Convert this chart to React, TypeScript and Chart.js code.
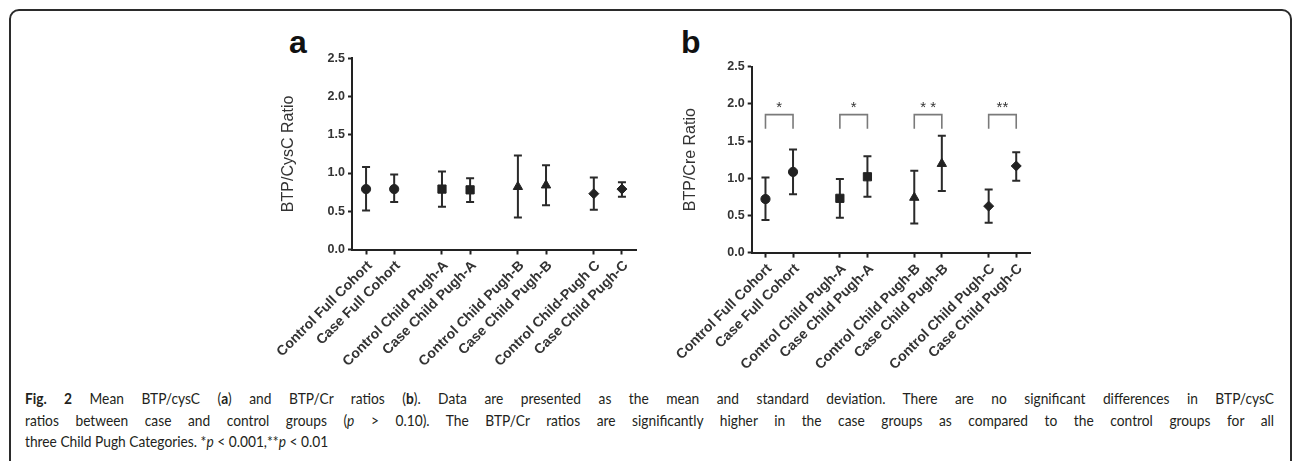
import React, { useEffect, useRef } from "react";
import { Chart, registerables } from "chart.js";

Chart.register(...registerables);

// ---------------- data ----------------
const labelsA = [
  "Control Full Cohort",
  "Case Full Cohort",
  "Control Child Pugh-A",
  "Case Child Pugh-A",
  "Control Child Pugh-B",
  "Case Child Pugh-B",
  "Control Child-Pugh C",
  "Case Child Pugh-C",
];
const labelsB = [
  "Control Full Cohort",
  "Case Full Cohort",
  "Control Child Pugh-A",
  "Case Child Pugh-A",
  "Control Child Pugh-B",
  "Case Child Pugh-B",
  "Control Child Pugh-C",
  "Case Child Pugh-C",
];
const markerStyles = ["circle", "circle", "rect", "rect", "triangle", "triangle", "rectRot", "rectRot"];
const markerRadius = [4.6, 4.6, 5.8, 5.8, 5.4, 5.4, 5.0, 5.0];

// panel a: BTP/CysC ratio (mean, mean+SD, mean-SD)
const meanA = [0.79, 0.79, 0.79, 0.78, 0.82, 0.84, 0.73, 0.79];
const upperA = [1.08, 0.98, 1.02, 0.93, 1.23, 1.1, 0.94, 0.88];
const lowerA = [0.51, 0.62, 0.56, 0.62, 0.42, 0.58, 0.52, 0.69];

// panel b: BTP/Cre ratio
const meanB = [0.72, 1.085, 0.73, 1.02, 0.74, 1.195, 0.625, 1.165];
const upperB = [1.01, 1.385, 0.99, 1.295, 1.1, 1.57, 0.85, 1.35];
const lowerB = [0.44, 0.785, 0.47, 0.75, 0.39, 0.83, 0.4, 0.965];

// significance brackets in panel b
const bracketPairs = [
  [0, 1],
  [2, 3],
  [4, 5],
  [6, 7],
];
const bracketStars = ["*", "*", "* *", "**"];
const bracketTop = 1.855;
const bracketLegEnd = 1.665;
const starLevel = 1.95;

const yTicks = [0, 0.5, 1.0, 1.5, 2.0, 2.5];
const yTitleA = "BTP/CysC Ratio";
const yTitleB = "BTP/Cre Ratio";

// x position of each group member: pairs separated by a gap
const GROUP_GAP = 0.7;
const xPos = (i: number) => i + Math.floor(i / 2) * GROUP_GAP;

const FONT = "'Liberation Sans', Arial, sans-serif";
const INK = "#222";

function errorBarPlugin(lower: number[], upper: number[]) {
  return {
    id: "errorBars",
    beforeDatasetsDraw(chart: any) {
      const { ctx, scales } = chart;
      const x = scales.x;
      const y = scales.y;
      ctx.save();
      ctx.strokeStyle = "#2a2a2a";
      ctx.lineWidth = 2;
      for (let i = 0; i < lower.length; i++) {
        const px = x.getPixelForValue(xPos(i));
        const pTop = y.getPixelForValue(upper[i]);
        const pBot = y.getPixelForValue(lower[i]);
        ctx.beginPath();
        ctx.moveTo(px, pTop);
        ctx.lineTo(px, pBot);
        ctx.moveTo(px - 4, pTop);
        ctx.lineTo(px + 4, pTop);
        ctx.moveTo(px - 4, pBot);
        ctx.lineTo(px + 4, pBot);
        ctx.stroke();
      }
      ctx.restore();
    },
  };
}

const bracketPlugin = {
  id: "brackets",
  afterDatasetsDraw(chart: any) {
    const { ctx, scales } = chart;
    const x = scales.x;
    const y = scales.y;
    ctx.save();
    ctx.strokeStyle = "#7a7a7a";
    ctx.lineWidth = 1.6;
    ctx.fillStyle = "#333";
    ctx.font = `15px ${FONT}`;
    ctx.textAlign = "center";
    ctx.textBaseline = "middle";
    bracketPairs.forEach((pair, k) => {
      const x1 = x.getPixelForValue(xPos(pair[0]));
      const x2 = x.getPixelForValue(xPos(pair[1]));
      const yt = y.getPixelForValue(bracketTop);
      const yl = y.getPixelForValue(bracketLegEnd);
      ctx.beginPath();
      ctx.moveTo(x1, yl);
      ctx.lineTo(x1, yt);
      ctx.lineTo(x2, yt);
      ctx.lineTo(x2, yl);
      ctx.stroke();
      ctx.fillText(bracketStars[k], (x1 + x2) / 2, y.getPixelForValue(starLevel));
    });
    ctx.restore();
  },
};

interface PanelProps {
  labels: string[];
  mean: number[];
  lower: number[];
  upper: number[];
  yTitle: string;
  left: number;
  top: number;
  width: number;
  height: number;
  padLeft: number;
  padRight: number;
  padTop: number;
  yWidth: number;
  xHeight: number;
  brackets?: boolean;
}

function Panel(p: PanelProps) {
  const ref = useRef<HTMLCanvasElement | null>(null);
  useEffect(() => {
    if (!ref.current) return;
    const plugins: any[] = [errorBarPlugin(p.lower, p.upper)];
    if (p.brackets) plugins.push(bracketPlugin);
    const chart = new Chart(ref.current, {
      type: "scatter",
      data: {
        datasets: [
          {
            data: p.mean.map((m, i) => ({ x: xPos(i), y: m })),
            pointStyle: markerStyles as any,
            pointRadius: markerRadius,
            pointBackgroundColor: INK,
            pointBorderColor: INK,
            pointBorderWidth: 1,
            showLine: false,
          },
        ],
      },
      options: {
        responsive: false,
        animation: false,
        events: [],
        layout: { padding: { left: p.padLeft, right: p.padRight, top: p.padTop, bottom: 0 } },
        plugins: { legend: { display: false }, tooltip: { enabled: false } },
        scales: {
          x: {
            type: "linear",
            min: -0.5,
            max: 9.6,
            afterBuildTicks: (scale: any) => {
              scale.ticks = p.labels.map((_, i) => ({ value: xPos(i) }));
            },
            afterFit: (scale: any) => {
              scale.height = p.xHeight;
              scale.paddingLeft = 0;
              scale.paddingRight = 0;
            },
            ticks: {
              autoSkip: false,
              minRotation: 45,
              maxRotation: 45,
              padding: 3,
              labelOffset: 4,
              color: "#333",
              font: { family: FONT, size: 14, weight: "bold" },
              callback: (_v: any, i: number) => p.labels[i],
            },
            grid: {
              drawOnChartArea: false,
              drawTicks: true,
              tickLength: 5,
              tickWidth: 2,
              tickColor: INK,
            },
            border: { display: true, width: 2, color: INK },
          },
          y: {
            type: "linear",
            min: 0,
            max: 2.5,
            afterBuildTicks: (scale: any) => {
              scale.ticks = yTicks.map((v) => ({ value: v }));
            },
            afterFit: (scale: any) => {
              scale.width = p.yWidth;
            },
            ticks: {
              padding: 3,
              color: "#333",
              font: { family: FONT, size: 12.5, weight: "bold" },
              callback: (v: any) => Number(v).toFixed(1),
            },
            grid: {
              drawOnChartArea: false,
              drawTicks: true,
              tickLength: 4,
              tickWidth: 2,
              tickColor: INK,
            },
            border: { display: true, width: 2, color: INK },
            title: {
              display: true,
              text: p.yTitle,
              color: "#333",
              padding: 0,
              font: { family: FONT, size: 16, weight: "normal" },
            },
          },
        },
      },
      plugins,
    } as any);
    return () => chart.destroy();
  }, []);
  return (
    <canvas
      ref={ref}
      width={p.width}
      height={p.height}
      style={{ position: "absolute", left: p.left, top: p.top, width: p.width, height: p.height }}
    />
  );
}

const CAP_SCALE = 0.86;

export default function App() {
  const capStyle: React.CSSProperties = {
    position: "absolute",
    left: 25,
    width: 1249 / CAP_SCALE,
    fontFamily: "Lato, 'Open Sans', sans-serif",
    fontSize: 16,
    lineHeight: "21px",
    color: "#231f20",
    whiteSpace: "normal",
    transform: `scaleX(${CAP_SCALE})`,
    transformOrigin: "left top",
  };
  return (
    <div
      style={{
        position: "fixed",
        left: 0,
        top: 0,
        width: 1292,
        height: 461,
        overflow: "hidden",
        background: "#fff",
      }}
    >
      <div
        style={{
          position: "absolute",
          left: 9,
          top: 9,
          width: 1283,
          height: 500,
          boxSizing: "border-box",
          border: "2px solid #2b2b2b",
          borderRadius: 10,
        }}
      />
      <div
        style={{
          position: "absolute",
          left: 289,
          top: 26,
          fontFamily: FONT,
          fontWeight: "bold",
          fontSize: 32,
          lineHeight: "32px",
          color: "#111",
        }}
      >
        a
      </div>
      <div
        style={{
          position: "absolute",
          left: 681,
          top: 26,
          fontFamily: FONT,
          fontWeight: "bold",
          fontSize: 32,
          lineHeight: "32px",
          color: "#111",
        }}
      >
        b
      </div>
      <Panel
        labels={labelsA}
        mean={meanA}
        lower={lowerA}
        upper={upperA}
        yTitle={yTitleA}
        left={200}
        top={30}
        width={450}
        height={345}
        padLeft={79.4}
        padRight={14}
        padTop={28.3}
        yWidth={72.6}
        xHeight={125.5}
      />
      <Panel
        labels={labelsB}
        mean={meanB}
        lower={lowerB}
        upper={upperB}
        yTitle={yTitleB}
        left={600}
        top={30}
        width={450}
        height={345}
        padLeft={81.4}
        padRight={20}
        padTop={36.7}
        yWidth={70.3}
        xHeight={122.4}
        brackets
      />
      <div style={{ ...capStyle, top: 387, textAlign: "justify", textAlignLast: "justify" }}>
        <b>Fig. 2</b> Mean BTP/cysC (<b>a</b>) and BTP/Cr ratios (<b>b</b>). Data are presented as the mean and
        standard deviation. There are no significant differences in BTP/cysC
      </div>
      <div style={{ ...capStyle, top: 408.5, textAlign: "justify", textAlignLast: "justify" }}>
        ratios between case and control groups (<i>p</i> &gt; 0.10). The BTP/Cr ratios are significantly higher in
        the case groups as compared to the control groups for all
      </div>
      <div style={{ ...capStyle, top: 430 }}>
        three Child Pugh Categories. *<i>p</i> &lt; 0.001,**<i>p</i> &lt; 0.01
      </div>
    </div>
  );
}
